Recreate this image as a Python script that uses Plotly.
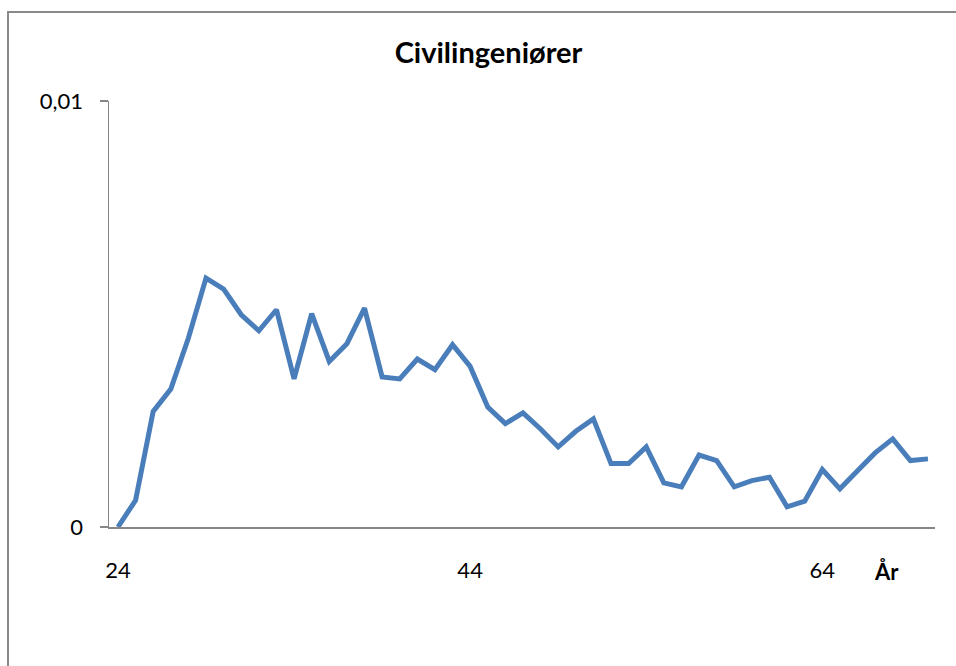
import plotly.graph_objects as go

ages = list(range(24, 71))
share = [
    0.0, 0.000628, 0.002715, 0.00324, 0.004436, 0.005843, 0.005585, 0.004982,
    0.004607, 0.0051, 0.003475, 0.005006, 0.003887, 0.004302, 0.00514, 0.003522,
    0.003475, 0.003944, 0.003693, 0.004279, 0.00377, 0.002818, 0.002427, 0.002678,
    0.002302, 0.00188, 0.002246, 0.002537, 0.001489, 0.001489, 0.00188, 0.001036,
    0.000943, 0.001688, 0.001559, 0.000943, 0.00109, 0.001168, 0.000474, 0.000605,
    0.001348, 0.000896, 0.001318, 0.00174, 0.002068, 0.001559, 0.001599,
]
x_tick_vals = [24, 44, 64]
x_tick_text = ["24", "44", "64"]
y_tick_vals = [0, 0.01]
y_tick_text = ["0", "0,01"]
title_text = "Civilingeniører"
x_label = "År"

W, H = 956, 666
L, R, T, B = 109, 21, 101, 139
pw, ph = W - L - R, H - T - B

def px_to_paper_x(px):
    return (px - L) / pw

def px_to_paper_y(py):
    return (H - B - py) / ph

axis_gray = "#868686"
font_main = "Lato, 'Open Sans', sans-serif"

fig = go.Figure()
fig.add_trace(go.Scatter(
    x=ages, y=share, mode="lines",
    line=dict(color="#4A7EBB", width=5),
    hoverinfo="skip", showlegend=False,
))

fig.update_layout(
    width=W, height=H,
    margin=dict(l=L, r=R, t=T, b=B),
    paper_bgcolor="white", plot_bgcolor="white",
    showlegend=False,
    font=dict(family=font_main, size=22, color="black"),
    title=dict(
        text="<b>" + title_text + "</b>",
        x=0.511, xanchor="center",
        y=1 - 53 / H, yanchor="middle",
        font=dict(family=font_main, size=29, color="black"),
    ),
    xaxis=dict(
        range=[23.49, 70.40],
        tickvals=x_tick_vals, ticktext=x_tick_text,
        showgrid=False, zeroline=False,
        showline=True, linecolor=axis_gray, linewidth=1.5,
        ticks="", ticklabelstandoff=23,
        tickfont=dict(family=font_main, size=22, color="black"),
    ),
    yaxis=dict(
        range=[0, 0.01],
        tickvals=y_tick_vals, ticktext=y_tick_text,
        showgrid=False, zeroline=False,
        showline=True, linecolor=axis_gray, linewidth=1.5,
        ticks="outside", ticklen=8, tickcolor=axis_gray, tickwidth=1.5,
        ticklabelstandoff=12,
        tickfont=dict(family=font_main, size=22, color="black"),
    ),
    shapes=[dict(
        type="rect", xref="paper", yref="paper",
        x0=px_to_paper_x(8), x1=px_to_paper_x(W + 20),
        y0=px_to_paper_y(H + 20), y1=px_to_paper_y(12),
        line=dict(color="#898989", width=2), fillcolor="rgba(0,0,0,0)",
        layer="below",
    )],
    annotations=[dict(
        text="<b>" + x_label + "</b>", xref="paper", yref="paper",
        x=px_to_paper_x(886.7), y=px_to_paper_y(571),
        xanchor="center", yanchor="middle", showarrow=False,
        font=dict(family=font_main, size=22, color="black"),
    )],
)

fig.write_html(
    "out.html",
    config={"displayModeBar": False, "staticPlot": True},
    post_script="document.body.style.margin='0px';document.body.style.overflow='hidden';",
)
